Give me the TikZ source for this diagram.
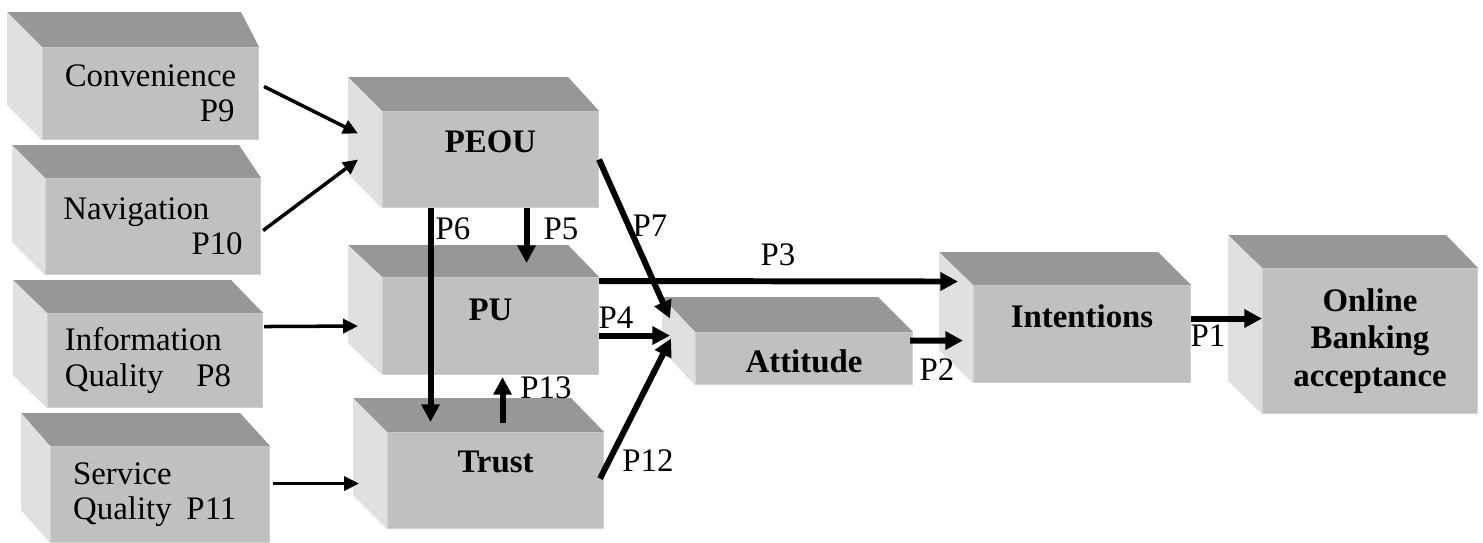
\documentclass[tikz,border=0pt]{standalone}
\usepackage{fontspec}
\setmainfont{Liberation Serif}
\usetikzlibrary{arrows.meta}

\definecolor{frontgray}{RGB}{192,192,192}
\definecolor{topgray}{RGB}{151,151,151}
\definecolor{sidegray}{RGB}{224,224,224}
\definecolor{edgegray}{RGB}{208,208,208}
\newcommand{\boxfont}{\fontsize{18.7}{20.2}\selectfont}

\tikzset{
    front/.style 2 args={fill=frontgray,draw=edgegray,line width=0.6pt,inner sep=0pt,
        anchor=north west,minimum width=#1*0.02cm,minimum height=#2*0.02cm},
    boldbox/.style 2 args={front={#1}{#2},font=\boxfont\bfseries},
    topface/.style={fill=topgray},
    sideface/.style={fill=sidegray},
    thinarrow/.style={line width=2pt,-{Triangle[length=8.5pt,width=8pt]}},
    thickarrow/.style={line width=3.4pt,-{Triangle[length=10pt,width=10pt]}},
    plabel/.style={inner sep=0pt}
}

\begin{document}
\begin{tikzpicture}[x=0.02cm,y=-0.02cm,font=\boxfont]
                \useasboundingbox (0,0) rectangle (1483,542);
                % front faces
                \node[front={216}{92},align=right] (conv) at (42,47) {Convenience\\P9\hspace*{1pt}};
                \node[front={215}{96},align=left] (nav) at (45,178) {Navigation\\\hspace*{3.9em}P10};
                \node[front={215}{94},align=left] (info) at (47,313) {Information\\Quality\hspace{1em}P8\hspace*{8pt}};
                \node[front={219}{96},align=left] (serv) at (50,446) {Service\\Quality\hspace{0.45em}P11\hspace*{6pt}};
                \node[boldbox={216}{96}] (peou) at (382,111) {\raisebox{4.1pt}[0pt][0pt]{PEOU}};
                \node[boldbox={216}{97}] (pu) at (382,277) {\raisebox{3.1pt}[0pt][0pt]{PU}};
                \node[boldbox={216}{96}] (trust) at (387,432) {\raisebox{4.7pt}[0pt][0pt]{Trust}};
                \node[boldbox={217}{52}] (att) at (695,332) {\raisebox{-7.8pt}[0pt][0pt]{Attitude}};
                \node[boldbox={217}{97}] (int) at (973,285) {\raisebox{3.9pt}[0pt][0pt]{Intentions}};
                \node[boldbox={215}{145},align=center,
                      font=\fontsize{18.7}{21.3}\selectfont\bfseries] (online) at (1262,268) {Online\\Banking\\acceptance};
                % top and side faces
                \foreach \n/\dl/\dr/\dt in {conv/35/18/35,nav/33/22/33,info/34/32/33,serv/29/30/33,
                        peou/34/31/34,pu/34/31/32,trust/34/33/34,att/33/35/35,int/34/33/33,online/34/32/33}{
                    \fill[topface] (\n.north west) -- ++(-\dl,-\dt) -- ([shift={(-\dr,-\dt)}]\n.north east)
                        -- (\n.north east) -- cycle;
                    \fill[sideface] (\n.north west) -- ++(-\dl,-\dt) -- ([shift={(-\dl,-\dt)}]\n.south west)
                        -- (\n.south west) -- cycle;
                }
                % connectors
                \draw[thinarrow] ([shift={(5,-7)}]conv.east) -- ([shift={(-24,-26)}]peou.west);
                \draw[thinarrow] ([shift={(2,4)}]nav.east) -- ([shift={(-24,0)}]peou.west);
                \draw[thinarrow] ([shift={(1,-34)}]info.east) -- ([shift={(-24,0)}]pu.west);
                \draw[thinarrow] ([shift={(3,-11)}]serv.east) -- ([shift={(-28,3)}]trust.west);
                \draw[thickarrow] ([shift={(-60,0)}]peou.south) -- ([shift={(-65,-10)}]trust.north);
                \draw[thickarrow] ([shift={(36,0)}]peou.south) -- ([shift={(36,-14)}]pu.north);
                \draw[thickarrow] (peou.east) -- ([shift={(-25,-40)}]att.west);
                \draw[thickarrow] ([shift={(0,9.5)}]pu.east) -- ([shift={(-25,-23)}]att.west);
                \draw[thickarrow] ([shift={(-4,-2)}]trust.east) -- ([shift={(-24,-20)}]att.west);
                \draw[thickarrow] ([shift={(7,-9)}]trust.north) -- ([shift={(12,2)}]pu.south);
                \draw[thickarrow] ([shift={(0,4)}]pu.north east) -- ([shift={(-15,-52.5)}]int.west);
                \draw[thickarrow] ([shift={(-3,-18)}]att.east) -- ([shift={(-10,6.5)}]int.west);
                \draw[thickarrow] ([shift={(0,-15.5)}]int.east) -- ([shift={(0,-22.5)}]online.west);
                % path labels
                \node[plabel] (l6) at (453,229) {P6};
                \node[plabel] (l5) at (561,229) {P5};
                \node[plabel] (l7) at (650,226) {P7};
                \node[plabel] (l3) at (778,255) {P3};
                \node[plabel] (l4) at (616,318) {P4};
                \node[plabel] (l2) at (937,370) {P2};
                \node[plabel] (l1) at (1208,336) {P1};
                \node[plabel] (l12) at (648,461) {P12};
                \node[plabel] (l13) at (546,388) {P13};
            \end{tikzpicture}
\end{document}
